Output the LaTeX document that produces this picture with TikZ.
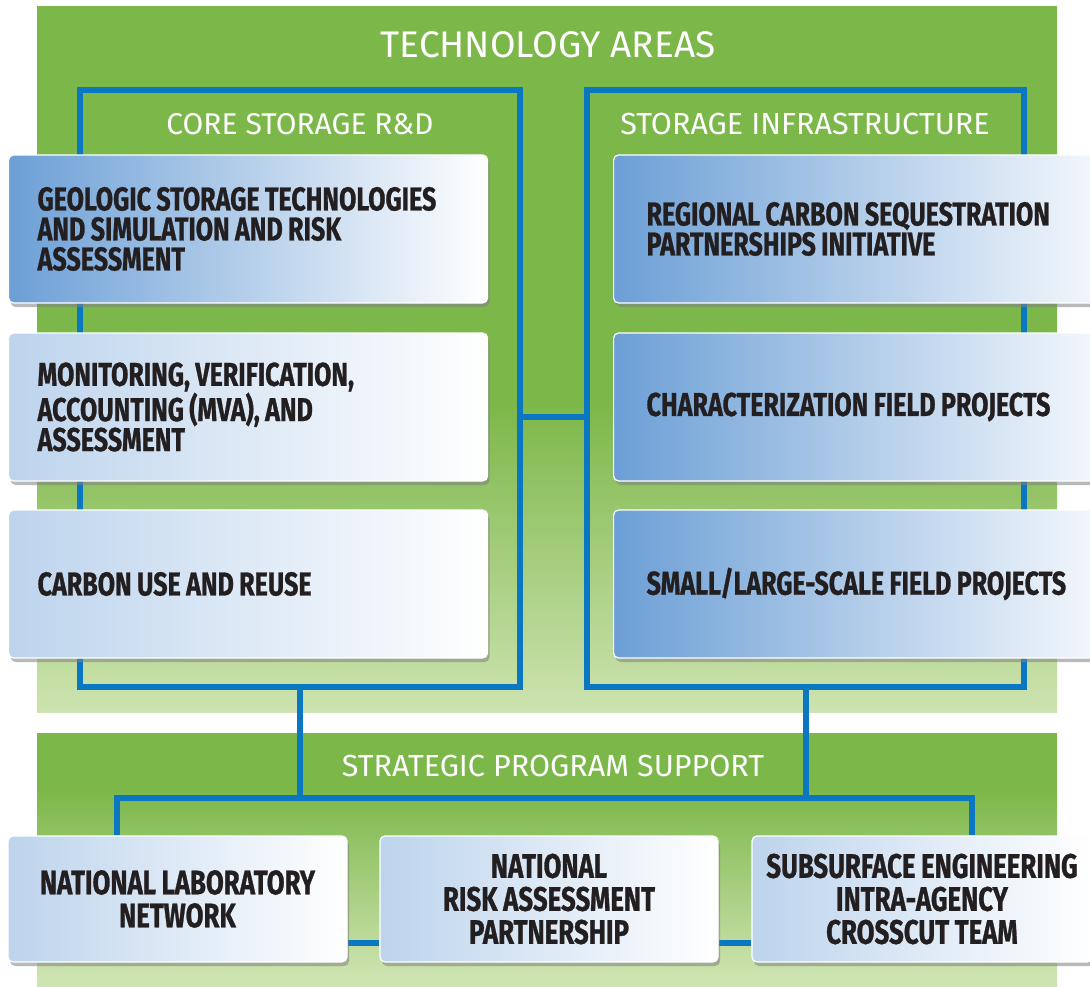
\documentclass[tikz,border=0pt]{standalone}
\usepackage{fontspec}
\setmainfont{Fira Sans}
\newfontfamily\cardfamily[FakeStretch=0.76, FakeBold=0.8, WordSpace=0.9]{Fira Sans}
\usetikzlibrary{shadows,backgrounds,calc}

\definecolor{panelgreen}{HTML}{7CB749}
\definecolor{palegreen}{HTML}{CDE3B0}
\definecolor{linkblue}{HTML}{0C77C1}
\definecolor{cardblue}{HTML}{6C9FD6}
\definecolor{cardink}{HTML}{231F20}

\pgfdeclareverticalshading{topfade}{100bp}{color(0bp)=(palegreen); color(25bp)=(palegreen); color(47bp)=(panelgreen); color(100bp)=(panelgreen)}
\pgfdeclareverticalshading{lowfade}{100bp}{color(0bp)=(palegreen); color(27bp)=(palegreen); color(64bp)=(panelgreen); color(100bp)=(panelgreen)}

\tikzset{
  link/.style={draw=linkblue, line width=6pt},
  frame/.style={draw=linkblue, line width=6pt, inner sep=0pt},
  heading/.style={text=white, anchor=base, inner sep=0pt},
  card/.style={rounded corners=5pt, draw=white, line width=1.2pt,
    drop shadow={shadow xshift=2pt, shadow yshift=-4pt, opacity=0.55},
    text=cardink, font=\cardfamily\bfseries\fontsize{33}{30}\selectfont, inner ysep=0pt},
  deepcard/.style={card, left color=cardblue, right color=white},
  softcard/.style={card, left color=cardblue!45, right color=white},
}

\begin{document}
\begin{tikzpicture}[x=1pt, y=-1pt]
\useasboundingbox (0,0) rectangle (1090,987);
\begin{pgfonlayer}{background}
\fill[white] (0,0) rectangle (1090,987);
\shade[shading=topfade] (37,7) rectangle (1057,712);
\shade[shading=lowfade] (37,733) rectangle (1057,987);
\end{pgfonlayer}

\node[frame, minimum width=440pt, minimum height=597pt] (coreframe) at (300,388.5) {};
\node[frame, minimum width=437pt, minimum height=597pt] (infraframe) at (805.5,388.5) {};

\node[heading, font=\fontsize{37}{37}\selectfont] (areas) at (548,58) {TECHNOLOGY AREAS};
\node[heading, font=\fontsize{30}{30}\selectfont] (corehead) at (300,135) {CORE STORAGE R\&D};
\node[heading, font=\fontsize{30.5}{30}\selectfont] (infrahead) at (805,135) {STORAGE INFRASTRUCTURE};
\node[heading, font=\fontsize{30.5}{30}\selectfont] (supporthead) at (553,776) {STRATEGIC PROGRAM SUPPORT};

\foreach \n/\y/\kind/\txt in {
  1/229/deepcard/{GEOLOGIC STORAGE TECHNOLOGIES\\AND SIMULATION AND RISK\\ASSESSMENT},
  2/407/softcard/{MONITORING, VERIFICATION,\\ACCOUNTING (MVA), AND\\ASSESSMENT},
  3/584/softcard/{CARBON USE AND REUSE}}
  \node[\kind, anchor=west, minimum height=148pt, text width=421pt, inner xsep=29pt, align=flush left] (core\n) at (8,\y) {\txt};

\foreach \n/\y/\txt in {
  1/229/{REGIONAL CARBON SEQUESTRATION\\PARTNERSHIPS INITIATIVE},
  2/407/{CHARACTERIZATION FIELD PROJECTS},
  3/584/{SMALL/LARGE-SCALE FIELD PROJECTS}}
  \node[deepcard, anchor=west, minimum height=148pt, text width=460pt, inner xsep=33pt, align=flush left] (infra\n) at (613,\y) {\txt};

\node[softcard, minimum width=339pt, minimum height=126pt, align=center, font=\cardfamily\bfseries\fontsize{34}{33}\selectfont] (lab) at (177.5,899) {NATIONAL LABORATORY\\NETWORK};
\node[softcard, minimum width=338pt, minimum height=126pt, align=center, font=\cardfamily\bfseries\fontsize{34}{33}\selectfont] (risk) at (549,899) {NATIONAL\\RISK ASSESSMENT\\PARTNERSHIP};
\node[softcard, minimum width=340pt, minimum height=126pt, align=center, font=\cardfamily\bfseries\fontsize{34}{33}\selectfont] (team) at (922,899) {SUBSURFACE ENGINEERING\\INTRA-AGENCY\\CROSSCUT TEAM};

\begin{pgfonlayer}{background}
\draw[link] ($(coreframe.east)+(0,28)$) -- ($(infraframe.west)+(0,28)$);
\coordinate (busL) at (117,798);
\coordinate (busR) at (972,798);
\draw[link] (coreframe.south) -- (coreframe.south |- busL);
\draw[link] (infraframe.south) -- (infraframe.south |- busL);
\draw[link] (busL |- lab.north) -- (busL) -- (busR) -- (busR |- team.north);
\draw[link] ($(lab.east)+(0,44)$) -- ($(risk.west)+(0,44)$);
\draw[link] ($(risk.east)+(0,44)$) -- ($(team.west)+(0,44)$);
\end{pgfonlayer}
\end{tikzpicture}
\end{document}
